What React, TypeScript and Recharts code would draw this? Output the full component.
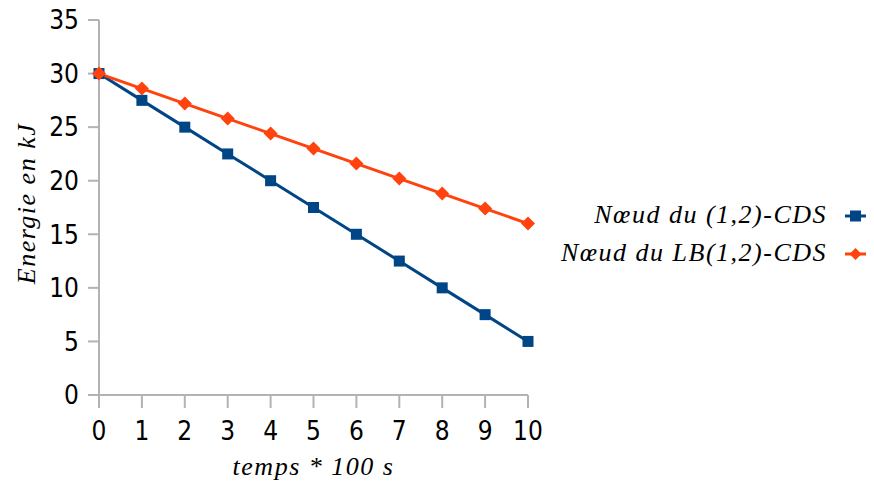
import React from 'react';
import { LineChart, Line, XAxis, YAxis, Legend, Label } from 'recharts';

const times = [0, 1, 2, 3, 4, 5, 6, 7, 8, 9, 10];
const cdsEnergy = [30, 27.5, 25, 22.5, 20, 17.5, 15, 12.5, 10, 7.5, 5];
const lbCdsEnergy = [30, 28.6, 27.2, 25.8, 24.4, 23, 21.6, 20.2, 18.8, 17.4, 16];
const yTicks = [0, 5, 10, 15, 20, 25, 30, 35];
const xTicks = [0, 1, 2, 3, 4, 5, 6, 7, 8, 9, 10];
const seriesNames = ['Nœud du (1,2)-CDS', 'Nœud du LB(1,2)-CDS'];
const xTitle = 'temps * 100 s';
const yTitle = 'Energie en kJ';

const data = times.map((t, i) => ({ t, cds: cdsEnergy[i], lb: lbCdsEnergy[i] }));

const BLUE = '#004586';
const ORANGE = '#ff420e';
const AXIS = '#b3b3b3';
const TICK_FONT = '"DejaVu Sans Condensed", "Liberation Sans", sans-serif';
const SERIF = '"Liberation Serif", serif';

const SquareDot = (props: any) => {
  const { cx, cy, index } = props;
  if (cx == null || cy == null) return null;
  return <rect key={'s' + index} x={cx - 5.5} y={cy - 5.5} width={11} height={11} fill={BLUE} />;
};

const DiamondDot = (props: any) => {
  const { cx, cy, index } = props;
  if (cx == null || cy == null) return null;
  const r = 7;
  return (
    <polygon
      key={'d' + index}
      points={`${cx},${cy - r} ${cx + r},${cy} ${cx},${cy + r} ${cx - r},${cy}`}
      fill={ORANGE}
    />
  );
};

const YTitle = (props: any) => {
  const vb = props.viewBox || { x: 0, y: 20, width: 99, height: 375 };
  const cx = vb.x + 26;
  const cy = vb.y + vb.height / 2 - 4;
  return (
    <text
      x={cx}
      y={cy}
      transform={`rotate(-90 ${cx} ${cy})`}
      textAnchor="middle"
      dominantBaseline="central"
      fontFamily={SERIF}
      fontStyle="italic"
      fontSize={26}
      letterSpacing={1.5}
      fill="#000"
    >
      {yTitle}
    </text>
  );
};

const XTitle = (props: any) => {
  const vb = props.viewBox || { x: 99, y: 395, width: 429, height: 91 };
  return (
    <text
      x={vb.x + vb.width / 2}
      y={vb.y + 80}
      textAnchor="middle"
      fontFamily={SERIF}
      fontStyle="italic"
      fontSize={26}
      letterSpacing={1.5}
      fill="#000"
    >
      {xTitle}
    </text>
  );
};

const renderLegend = () => (
  <svg width={334} height={80} style={{ display: 'block' }}>
    {seriesNames.map((name, i) => {
      const y = 19 + i * 38;
      return (
        <g key={name}>
          <text
            x={287}
            y={y}
            textAnchor="end"
            dominantBaseline="central"
            fontFamily={SERIF}
            fontStyle="italic"
            fontSize={26}
            letterSpacing={1.5}
            fill="#000"
          >
            {name}
          </text>
          <line x1={305} x2={326} y1={y + 2} y2={y + 2} stroke={i === 0 ? BLUE : ORANGE} strokeWidth={3} />
          {i === 0 ? (
            <rect x={310} y={y + 2 - 5.5} width={11} height={11} fill={BLUE} />
          ) : (
            <polygon
              points={`${315.5},${y + 2 - 6} ${321.5},${y + 2} ${315.5},${y + 8} ${309.5},${y + 2}`}
              fill={ORANGE}
            />
          )}
        </g>
      );
    })}
  </svg>
);

export default function App() {
  return (
    <div style={{ position: 'absolute', left: 0, top: 0, width: 874, height: 486, background: '#fff' }}>
      <LineChart
        width={874}
        height={486}
        data={data}
        margin={{ top: 20, right: 346, bottom: 0, left: 0 }}
      >
        <XAxis
          dataKey="t"
          type="number"
          domain={[0, 10]}
          ticks={xTicks}
          interval={0}
          height={91}
          stroke={AXIS}
          axisLine={{ stroke: AXIS, strokeWidth: 2 }}
          tickLine={{ stroke: AXIS, strokeWidth: 2 }}
          tickSize={13}
          tickMargin={14}
          tick={{ fill: '#000', fontSize: 26, fontFamily: TICK_FONT }}
        >
          <Label content={XTitle} />
        </XAxis>
        <YAxis
          type="number"
          domain={[0, 35]}
          ticks={yTicks}
          interval={0}
          width={99}
          stroke={AXIS}
          axisLine={{ stroke: AXIS, strokeWidth: 2 }}
          tickLine={{ stroke: AXIS, strokeWidth: 2 }}
          tickSize={11}
          tickMargin={9}
          tick={{ fill: '#000', fontSize: 26, fontFamily: TICK_FONT }}
        >
          <Label content={YTitle} />
        </YAxis>
        <Legend
          layout="vertical"
          align="center"
          verticalAlign="middle"
          content={renderLegend}
          wrapperStyle={{ position: 'absolute', left: 540, top: 195, width: 334, height: 80 }}
        />
        <Line
          dataKey="cds"
          name={seriesNames[0]}
          stroke={BLUE}
          strokeWidth={3}
          dot={SquareDot}
          activeDot={false}
          isAnimationActive={false}
        />
        <Line
          dataKey="lb"
          name={seriesNames[1]}
          stroke={ORANGE}
          strokeWidth={3}
          dot={DiamondDot}
          activeDot={false}
          isAnimationActive={false}
        />
      </LineChart>
    </div>
  );
}
